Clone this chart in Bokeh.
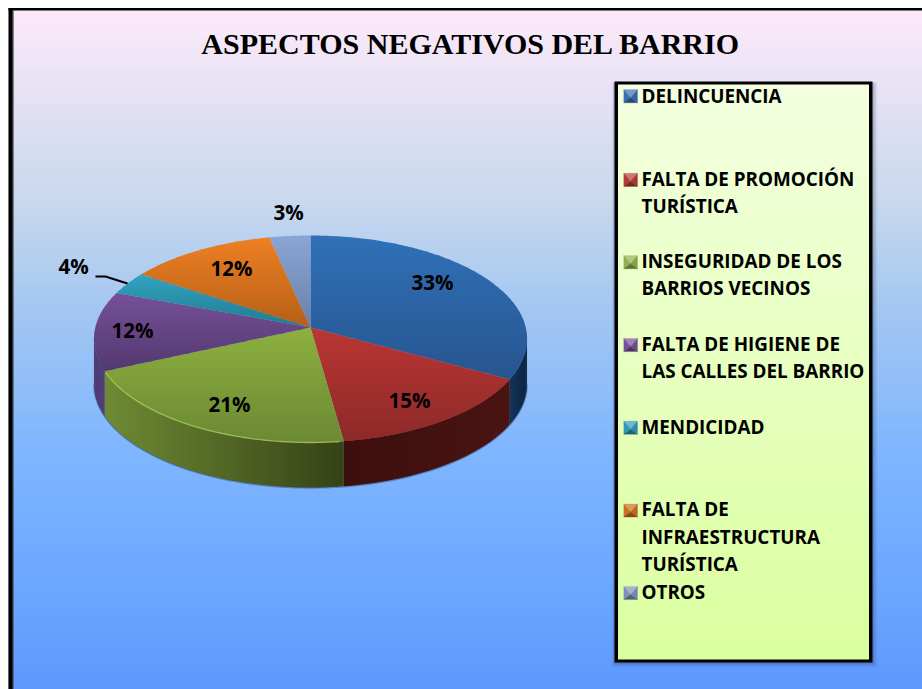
import numpy as np
from bokeh.plotting import figure
from bokeh.models import Range1d
from bokeh.core.properties import value
from bokeh.embed import file_html
from bokeh.resources import INLINE

TITLE = "ASPECTOS NEGATIVOS DEL BARRIO"
legend_lines = [["DELINCUENCIA"], ["FALTA DE PROMOCIÓN", "TURÍSTICA"], ["INSEGURIDAD DE LOS", "BARRIOS VECINOS"],
                ["FALTA DE HIGIENE DE", "LAS CALLES DEL BARRIO"], ["MENDICIDAD"],
                ["FALTA DE", "INFRAESTRUCTURA", "TURÍSTICA"], ["OTROS"]]
values = [33.0, 14.8, 20.5, 12.4, 3.6, 12.3, 3.4]
labels = ["33%", "15%", "21%", "12%", "4%", "12%", "3%"]
label_x = [432, 409, 229, 132, 73, 231, 288]
label_y = [281.5, 399.5, 403.5, 329.5, 265.5, 267.5, 211.5]
top_hi = ["#3071b8", "#bb3634", "#8db03f", "#775099", "#32a4c2", "#ee8024", "#8aa5d6"]
top_lo = ["#27558f", "#8c2928", "#6b8933", "#523870", "#217a90", "#b55f17", "#6a80a6"]
wall_l = ["#14345a", "#3d0f0d", "#6f8b34", "#4b3a72", "#217a90", "#b55f17", "#6a80a6"]
wall_r = ["#0c2440", "#4a1412", "#354216", "#54407a", "#217a90", "#b55f17", "#6a80a6"]
marker_base = ["#3a6fae", "#b83a38", "#93ae4c", "#74509a", "#2f9ab6", "#cc6f20", "#7c92bd"]
bg_stop_y = [8, 200, 300, 450, 600, 689]
bg_stop_c = ["#fdeaf9", "#c8d8ee", "#a6c8f0", "#7fb6ff", "#6aa5ff", "#5e98fd"]
leg_stop_c = ["#f3ffe0", "#daff9e"]

CX, CY = 310.0, 327.0
A, C, D = 102.2, 0.111, 215.2
DEPTH = 45.0


def rgb(h):
    return np.array([int(h[i:i + 2], 16) for i in (1, 3, 5)], float)


def hx(c):
    c = np.clip(np.round(c), 0, 255).astype(int)
    return "#%02x%02x%02x" % tuple(c)


def mix(a, b, t):
    return hx(rgb(a) * (1 - t) + rgb(b) * t)


def project(deg):
    t = np.radians(deg)
    den = 1 + C * np.cos(t)
    return CX + D * np.sin(t) / den, CY - A * np.cos(t) / den


def clip_y(pts, y0, keep_below):
    out = []
    n = len(pts)
    inside = (lambda p: p[1] >= y0) if keep_below else (lambda p: p[1] <= y0)
    for i in range(n):
        a, b = pts[i], pts[(i + 1) % n]
        ia, ib = inside(a), inside(b)
        if ia:
            out.append(a)
        if ia != ib:
            s = (y0 - a[1]) / (b[1] - a[1])
            out.append((a[0] + s * (b[0] - a[0]), y0))
    return out


W, H = 922, 689
p = figure(width=W, height=H, x_range=Range1d(0, W), y_range=Range1d(H, 0),
           toolbar_location=None, output_backend="svg", x_axis_type=None, y_axis_type=None,
           min_border=0, outline_line_color=None, background_fill_color="white", border_fill_color="white")
p.grid.visible = False

ys = np.arange(8, 689, 4.0)
bgcols = [hx(np.array([np.interp(y + 2, bg_stop_y, [rgb(c)[k] for c in bg_stop_c]) for k in range(3)])) for y in ys]
p.quad(left=8, right=922, top=ys, bottom=ys + 5, fill_color=bgcols, line_color=None)
p.quad(left=8, right=922, top=7.5, bottom=10, fill_color="black", line_color=None)
p.quad(left=8, right=12.3, top=7.5, bottom=689, fill_color="black", line_color=None)
p.quad(left=12.3, right=13.2, top=10, bottom=689, fill_color="#555555", line_color=None)

p.text(x=[470.5], y=[43], text=[TITLE], text_font=value("Liberation Serif"), text_font_style="bold",
       text_font_size="30px", text_color="black", text_align="center", text_baseline="alphabetic")

fr = np.cumsum([0] + values) / sum(values) * 360.0
LEFT_EXT = 360 - np.degrees(np.arccos(-C))
RIGHT_EXT = np.degrees(np.arccos(-C))

wx, wy, wc = [], [], []
for i in range(len(values)):
    a0, a1 = max(fr[i], RIGHT_EXT), min(fr[i + 1], LEFT_EXT)
    if a1 <= a0:
        continue
    angs = np.arange(a0, a1 + 1.0, 1.0)
    angs[-1] = a1
    xl, xr = project(a1)[0], project(a0)[0]
    for u, v in zip(angs[:-1], angs[1:]):
        xu, yu = project(u)
        vv = min(v + 1.0, a1)
        xv, yv = project(vv)
        xm = project((u + v) / 2)[0]
        s = (xm - xl) / max(xr - xl, 1)
        wx.append([xu, xv, xv, xu])
        wy.append([yu, yv, yv + DEPTH, yu + DEPTH])
        wc.append(mix(wall_l[i], wall_r[i], s))
p.patches(wx, wy, fill_color=wc, line_color=None)
arc = np.linspace(RIGHT_EXT, LEFT_EXT, 200)
ax, ay = project(arc)
p.line(ax, ay + DEPTH + 0.5, line_color="#2f4f80", line_width=1.5, line_alpha=0.5)

tx, ty, tc = [], [], []
for i in range(len(values)):
    angs = np.linspace(fr[i], fr[i + 1], max(int((fr[i + 1] - fr[i]) * 2), 4))
    x, y = project(angs)
    poly = [(CX, CY)] + list(zip(x, y))
    ymin, ymax = min(q[1] for q in poly), max(q[1] for q in poly)
    y0 = ymin
    while y0 < ymax:
        b = clip_y(clip_y(poly, y0, True), y0 + 4.8, False)
        if len(b) >= 3:
            tx.append([q[0] for q in b])
            ty.append([q[1] for q in b])
            tc.append(mix(top_hi[i], top_lo[i], (y0 + 2 - ymin) / (ymax - ymin)))
        y0 += 4.0
p.patches(tx, ty, fill_color=tc, line_color=None)

arc = np.linspace(max(fr[2], RIGHT_EXT) + 1, fr[3] - 1, 100)
ax, ay = project(arc)
p.line(ax, ay, line_color="#a9c95c", line_width=1.4, line_alpha=0.8)

p.line([95, 105, 127], [276, 276, 283], line_color="black", line_width=2)

p.text(x=label_x, y=label_y, text=labels, text_font=value("Open Sans"), text_font_style="bold",
       text_font_size="20.5px", text_color="black", text_align="center", text_baseline="middle")

for g, al in zip([4.5, 3, 1.5], [0.08, 0.1, 0.14]):
    p.quad(left=614 - g / 2, right=872 + g, top=81 + 1, bottom=662 + g, fill_color="#223355", fill_alpha=al, line_color=None)
p.quad(left=614, right=872, top=81, bottom=662, fill_color="black", line_color=None)
ly = np.arange(84, 659, 4.0)
lc = [mix(leg_stop_c[0], leg_stop_c[1], (y - 84) / 575) for y in ly]
p.quad(left=617.5, right=868.5, top=ly, bottom=np.minimum(ly + 5, 659), fill_color=lc, line_color=None)

marker_y = [95.7, 179.3, 261.7, 344.5, 427.2, 510, 592.5]
first_base = [95.7, 178, 260, 343, 426.5, 508.7, 591.7]
mx, my, mc, lx, lby, lt = [], [], [], [], [], []
for i, (cy, b0) in enumerate(zip(marker_y, first_base)):
    x0, x1, y0, y1 = 623.3, 637, cy - 6.6, cy + 6.6
    xc, yc = (x0 + x1) / 2, cy + 1.5
    base = marker_base[i]
    tris = [([x0, x1, xc], [y0, y0, yc], mix(base, "#ffffff", 0.3)),
            ([x0, xc, x0], [y0, yc, y1], base),
            ([x1, xc, x1], [y0, yc, y1], mix(base, "#000000", 0.08)),
            ([x0, x1, xc], [y1, y1, yc], mix(base, "#000000", 0.35))]
    for a, b, c in tris:
        mx.append(a); my.append(b); mc.append(c)
    for k, line in enumerate(legend_lines[i]):
        lx.append(641); lby.append(b0 + k * 27.5); lt.append(line)
p.patches(mx, my, fill_color=mc, line_color=mc, line_width=0.3)
p.text(x=lx, y=lby, text=lt, text_font=value("Open Sans"), text_font_style="bold", text_font_size="18.85px",
       text_color="black", text_align="left", text_baseline="alphabetic")

open("out.html", "w").write(file_html(p, INLINE))
